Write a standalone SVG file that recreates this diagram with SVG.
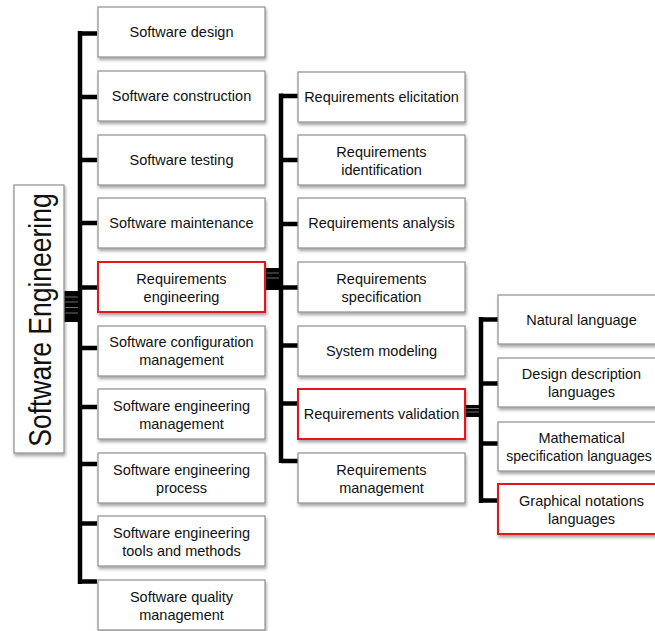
<svg xmlns="http://www.w3.org/2000/svg" width="655" height="631" viewBox="0 0 655 631">
  <defs>
    <filter id="shadow" x="-10%" y="-20%" width="130%" height="160%">
      <feDropShadow dx="1" dy="2.5" stdDeviation="1.6" flood-color="#000" flood-opacity="0.35"/>
    </filter>
  </defs>
  <style>
    .box { fill: #ffffff; stroke: #8e8e8e; stroke-width: 1.2; filter: url(#shadow); }
    .hl { fill: #ffffff; stroke: #e3161d; stroke-width: 2; filter: url(#shadow); }
    .lbl { font-family: "Liberation Sans", Arial, sans-serif; font-size: 14.5px; fill: #111; text-anchor: middle; dominant-baseline: central; }
    .root { font-family: "Liberation Sans", Arial, sans-serif; font-size: 26.5px; fill: #111; text-anchor: middle; }
    .bus { stroke: #000; stroke-width: 4.5; fill: none; }
    .stack { fill: #000; }
    .gap { stroke: #8a8a8a; stroke-width: 0.8; }
  </style>

  <!-- connectors -->
  <g id="connectors">
    <!-- level 1 bus -->
    <path class="bus" d="M80,31 V584"/>
    <path class="bus" d="M80,33.5 H97 M80,97 H97 M80,160 H97 M80,223 H97 M80,287.5 H97 M80,348 H97 M80,407 H97 M80,464 H97 M80,523.5 H97 M80,581.5 H97"/>
    <rect class="stack" x="64" y="291" width="16" height="31"/>
    <path class="gap" d="M65,297 H78 M65,302 H78 M65,307.5 H78 M65,313 H78"/>

    <!-- level 2 bus -->
    <path class="bus" d="M281,93.5 V463"/>
    <path class="bus" d="M281,96 H298 M281,160 H298 M281,224 H298 M281,287.5 H298 M281,345.5 H298 M281,403.5 H298 M281,461 H298"/>
    <rect class="stack" x="265" y="268" width="16" height="22"/>
    <path class="gap" d="M266,273 H279 M266,278 H279"/>

    <!-- level 3 bus -->
    <path class="bus" d="M481,317 V503"/>
    <path class="bus" d="M481,319.5 H498 M481,383.5 H498 M481,443.5 H498 M481,500.5 H498"/>
    <rect class="stack" x="465" y="405" width="16" height="12"/>
    <path class="gap" d="M466,408.5 H479 M466,412 H479"/>
  </g>

  <!-- root -->
  <g id="software-engineering">
    <rect class="box" x="14" y="185" width="50" height="268"/>
    <text class="root" transform="translate(51,320) rotate(-90) scale(1,1.15)">Software Engineering</text>
  </g>

  <!-- level 1 -->
  <g id="software-design">
    <rect class="box" x="98" y="7" width="167" height="50"/>
    <text class="lbl" x="181.5" y="32">Software design</text>
  </g>
  <g id="software-construction">
    <rect class="box" x="98" y="71" width="167" height="50"/>
    <text class="lbl" x="181.5" y="96">Software construction</text>
  </g>
  <g id="software-testing">
    <rect class="box" x="98" y="135" width="167" height="50"/>
    <text class="lbl" x="181.5" y="160">Software testing</text>
  </g>
  <g id="software-maintenance">
    <rect class="box" x="98" y="198" width="167" height="50"/>
    <text class="lbl" x="181.5" y="223">Software maintenance</text>
  </g>
  <g id="requirements-engineering">
    <rect class="hl" x="98" y="262" width="167" height="50"/>
    <text class="lbl" x="181.5" y="278.5">Requirements</text>
    <text class="lbl" x="181.5" y="296.5">engineering</text>
  </g>
  <g id="software-configuration-management">
    <rect class="box" x="98" y="326" width="167" height="50"/>
    <text class="lbl" x="181.5" y="342">Software configuration</text>
    <text class="lbl" x="181.5" y="360">management</text>
  </g>
  <g id="software-engineering-management">
    <rect class="box" x="98" y="389" width="167" height="50"/>
    <text class="lbl" x="181.5" y="405.5">Software engineering</text>
    <text class="lbl" x="181.5" y="423.5">management</text>
  </g>
  <g id="software-engineering-process">
    <rect class="box" x="98" y="453" width="167" height="50"/>
    <text class="lbl" x="181.5" y="469.5">Software engineering</text>
    <text class="lbl" x="181.5" y="487.5">process</text>
  </g>
  <g id="software-engineering-tools">
    <rect class="box" x="98" y="516" width="167" height="50"/>
    <text class="lbl" x="181.5" y="532.5">Software engineering</text>
    <text class="lbl" x="181.5" y="550.5">tools and methods</text>
  </g>
  <g id="software-quality-management">
    <rect class="box" x="98" y="580" width="167" height="50"/>
    <text class="lbl" x="181.5" y="596.5">Software quality</text>
    <text class="lbl" x="181.5" y="614.5">management</text>
  </g>

  <!-- level 2 -->
  <g id="requirements-elicitation">
    <rect class="box" x="298" y="72" width="167" height="50"/>
    <text class="lbl" x="381.5" y="97">Requirements elicitation</text>
  </g>
  <g id="requirements-identification">
    <rect class="box" x="298" y="135" width="167" height="50"/>
    <text class="lbl" x="381.5" y="151.5">Requirements</text>
    <text class="lbl" x="381.5" y="169.5">identification</text>
  </g>
  <g id="requirements-analysis">
    <rect class="box" x="298" y="198" width="167" height="50"/>
    <text class="lbl" x="381.5" y="223">Requirements analysis</text>
  </g>
  <g id="requirements-specification">
    <rect class="box" x="298" y="262" width="167" height="50"/>
    <text class="lbl" x="381.5" y="278.5">Requirements</text>
    <text class="lbl" x="381.5" y="296.5">specification</text>
  </g>
  <g id="system-modeling">
    <rect class="box" x="298" y="326" width="167" height="50"/>
    <text class="lbl" x="381.5" y="351">System modeling</text>
  </g>
  <g id="requirements-validation">
    <rect class="hl" x="298" y="389" width="167" height="50"/>
    <text class="lbl" x="381.5" y="414">Requirements validation</text>
  </g>
  <g id="requirements-management">
    <rect class="box" x="298" y="453" width="167" height="50"/>
    <text class="lbl" x="381.5" y="469.5">Requirements</text>
    <text class="lbl" x="381.5" y="487.5">management</text>
  </g>

  <!-- level 3 -->
  <g id="natural-language">
    <rect class="box" x="498" y="295" width="167" height="49"/>
    <text class="lbl" x="581.5" y="319.5">Natural language</text>
  </g>
  <g id="design-description-languages">
    <rect class="box" x="498" y="358" width="167" height="49"/>
    <text class="lbl" x="581.5" y="374">Design description</text>
    <text class="lbl" x="581.5" y="392">languages</text>
  </g>
  <g id="mathematical-specification-languages">
    <rect class="box" x="498" y="422" width="167" height="49"/>
    <text class="lbl" x="581.5" y="438">Mathematical</text>
    <text class="lbl" x="579" y="456" style="font-size:14px">specification languages</text>
  </g>
  <g id="graphical-notations-languages">
    <rect class="hl" x="498" y="484" width="167" height="50"/>
    <text class="lbl" x="581.5" y="500.5">Graphical notations</text>
    <text class="lbl" x="581.5" y="518.5">languages</text>
  </g>
</svg>
